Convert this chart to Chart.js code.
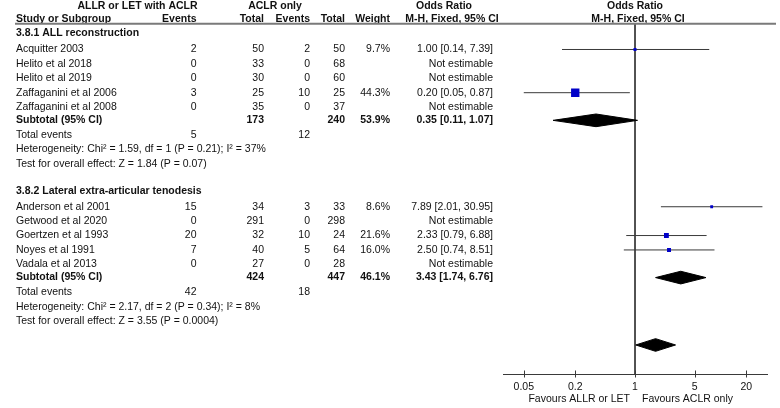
<!DOCTYPE html>
<html><head><meta charset="utf-8">
<script src="https://cdn.jsdelivr.net/npm/chart.js@4/dist/chart.umd.min.js"></script>
<style>html,body{margin:0;padding:0;background:#fff;}#c{display:block;}</style>
</head><body>
<canvas id="c" width="780" height="408"></canvas>
<script>
// ---------------- DATA ----------------
const groupNames = ["3.8.1 ALL reconstruction", "3.8.2 Lateral extra-articular tenodesis"];

const studies1 = ["Acquitter 2003", "Helito et al 2018", "Helito et al 2019", "Zaffaganini et al 2006", "Zaffaganini et al 2008"];
const eventsA1 = [2, 0, 0, 3, 0];
const totalA1  = [50, 33, 30, 25, 35];
const eventsB1 = [2, 0, 0, 10, 0];
const totalB1  = [50, 68, 60, 25, 37];
const weight1  = [9.7, null, null, 44.3, null];
const or1      = [1.00, null, null, 0.20, null];
const lo1      = [0.14, null, null, 0.05, null];
const hi1      = [7.39, null, null, 0.87, null];

const studies2 = ["Anderson et al 2001", "Getwood et al 2020", "Goertzen et al 1993", "Noyes et al 1991", "Vadala et al 2013"];
const eventsA2 = [15, 0, 20, 7, 0];
const totalA2  = [34, 291, 32, 40, 27];
const eventsB2 = [3, 0, 10, 5, 0];
const totalB2  = [33, 298, 24, 64, 28];
const weight2  = [8.6, null, 21.6, 16.0, null];
const or2      = [7.89, null, 2.33, 2.50, null];
const lo2      = [2.01, null, 0.79, 0.74, null];
const hi2      = [30.95, null, 6.88, 8.51, null];

const subTotalA  = [173, 424];
const subTotalB  = [240, 447];
const subWeight  = [53.9, 46.1];
const subOR      = [0.35, 3.43];
const subLo      = [0.11, 1.74];
const subHi      = [1.07, 6.76];
const totEventsA = [5, 42];
const totEventsB = [12, 18];
const heterogeneity = ["Heterogeneity: Chi\u00b2 = 1.59, df = 1 (P = 0.21); I\u00b2 = 37%",
                       "Heterogeneity: Chi\u00b2 = 2.17, df = 2 (P = 0.34); I\u00b2 = 8%"];
const effectTest = ["Test for overall effect: Z = 1.84 (P = 0.07)",
                    "Test for overall effect: Z = 3.55 (P = 0.0004)"];

const overallOR = 1.74, overallLo = 1.02, overallHi = 2.98;

const tickValues = [0.05, 0.2, 1, 5, 20];
const tickLabels = ["0.05", "0.2", "1", "5", "20"];
const axisMin = 1 / 35, axisMax = 35;
const favourLeft = "Favours ALLR or LET";
const favourRight = "Favours ACLR only";

// ---------------- LAYOUT (row slots) ----------------
const layout = {
  header1: -2.0, header2: -1.09, yTop: -0.7986, yBottom: 23.535,
  groups: [
    {head: -0.12, first: 1.0, sub: 5.92, te: 6.96, het: 7.95, test: 8.95},
    {head: 10.8, first: 11.92, sub: 16.84, te: 17.86, het: 18.86, test: 19.86}
  ],
  overall: 21.52
};
const diamondHalf = 0.44;
const groups = [
  {names: studies1, eA: eventsA1, tA: totalA1, eB: eventsB1, tB: totalB1, w: weight1, or: or1, lo: lo1, hi: hi1},
  {names: studies2, eA: eventsA2, tA: totalA2, eB: eventsB2, tB: totalB2, w: weight2, or: or2, lo: lo2, hi: hi2}
];

const LINE = '#3a3a3a';
const BLUE = '#0000c8';
const datasets = [];
// null line at OR = 1
datasets.push({type: 'line', data: [{x: 1, y: layout.yTop}, {x: 1, y: layout.yBottom}],
  borderColor: LINE, borderWidth: 1, pointRadius: 0, order: 5});

const squares = [];
const squareSides = [];
groups.forEach((g, gi) => {
  const L = layout.groups[gi];
  g.names.forEach((n, i) => {
    if (g.or[i] == null) return;
    const yy = L.first + i;
    datasets.push({type: 'line', data: [{x: g.lo[i], y: yy}, {x: g.hi[i], y: yy}],
      borderColor: LINE, borderWidth: 1, pointRadius: 0, order: 3});
    squares.push({x: g.or[i], y: yy});
    squareSides.push(1.5 + 0.155 * g.w[i]);
  });
  // subtotal diamond
  const ys = L.sub;
  datasets.push({type: 'line', fill: 'shape', backgroundColor: '#000', borderColor: '#000', borderWidth: 1,
    pointRadius: 0, tension: 0, order: 2,
    data: [{x: subLo[gi], y: ys}, {x: subOR[gi], y: ys - diamondHalf}, {x: subHi[gi], y: ys},
           {x: subOR[gi], y: ys + diamondHalf}, {x: subLo[gi], y: ys}]});
});
// overall diamond
datasets.push({type: 'line', fill: 'shape', backgroundColor: '#000', borderColor: '#000', borderWidth: 1,
  pointRadius: 0, tension: 0, order: 2,
  data: [{x: overallLo, y: layout.overall}, {x: overallOR, y: layout.overall - diamondHalf},
         {x: overallHi, y: layout.overall}, {x: overallOR, y: layout.overall + diamondHalf},
         {x: overallLo, y: layout.overall}]});
datasets.push({type: 'scatter', data: squares, pointStyle: 'rect', order: 0,
  pointRadius: squareSides.map(s => s / 1.4142), pointHoverRadius: squareSides.map(s => s / 1.4142),
  backgroundColor: BLUE, borderColor: BLUE, borderWidth: 0});

// ---------------- TEXT PLUGIN ----------------
const FONT = '"Liberation Sans", Arial, Helvetica, sans-serif';
const FS = 10.5;
const cols = {study: 16, eA: 196.5, tA: 264, eB: 310, tB: 345, w: 390, or: 493};
const textPlugin = {
  id: 'forestText',
  afterDraw(chart) {
    const ctx = chart.ctx;
    const ys = chart.scales.y, xs = chart.scales.x;
    const Y = v => ys.getPixelForValue(v);
    ctx.save();
    ctx.fillStyle = '#111';
    ctx.textBaseline = 'middle';
    const txt = (s, x, y, align, bold) => {
      ctx.font = (bold ? 'bold ' : '') + FS + 'px ' + FONT;
      ctx.textAlign = align;
      ctx.fillText(String(s), x, y);
    };
    // headers
    const h1 = Y(layout.header1), h2 = Y(layout.header2);
    txt('ALLR or LET with ACLR', 137.5, h1, 'center', true);
    txt('ACLR only', 275, h1, 'center', true);
    txt('Odds Ratio', 444, h1, 'center', true);
    txt('Odds Ratio', 635, h1, 'center', true);
    txt('Study or Subgroup', cols.study, h2, 'left', true);
    txt('Events', cols.eA, h2, 'right', true);
    txt('Total', cols.tA, h2, 'right', true);
    txt('Events', cols.eB, h2, 'right', true);
    txt('Total', cols.tB, h2, 'right', true);
    txt('Weight', cols.w, h2, 'right', true);
    txt('M-H, Fixed, 95% CI', 452, h2, 'center', true);
    txt('M-H, Fixed, 95% CI', 638, h2, 'center', true);
    // header rule
    ctx.strokeStyle = '#7a7a7a';
    ctx.lineWidth = 2;
    ctx.beginPath();
    ctx.moveTo(15, 23.7); ctx.lineTo(776, 23.7); ctx.stroke();

    groups.forEach((g, gi) => {
      const L = layout.groups[gi];
      txt(groupNames[gi], cols.study, Y(L.head), 'left', true);
      g.names.forEach((n, i) => {
        const y = Y(L.first + i);
        txt(n, cols.study, y, 'left');
        txt(g.eA[i], cols.eA, y, 'right');
        txt(g.tA[i], cols.tA, y, 'right');
        txt(g.eB[i], cols.eB, y, 'right');
        txt(g.tB[i], cols.tB, y, 'right');
        if (g.w[i] != null) txt(g.w[i].toFixed(1) + '%', cols.w, y, 'right');
        if (g.or[i] != null) {
          txt(g.or[i].toFixed(2) + ' [' + g.lo[i].toFixed(2) + ', ' + g.hi[i].toFixed(2) + ']', cols.or, y, 'right');
        } else {
          txt('Not estimable', cols.or, y, 'right');
        }
      });
      const ysb = Y(L.sub);
      txt('Subtotal (95% CI)', cols.study, ysb, 'left', true);
      txt(subTotalA[gi], cols.tA, ysb, 'right', true);
      txt(subTotalB[gi], cols.tB, ysb, 'right', true);
      txt(subWeight[gi].toFixed(1) + '%', cols.w, ysb, 'right', true);
      txt(subOR[gi].toFixed(2) + ' [' + subLo[gi].toFixed(2) + ', ' + subHi[gi].toFixed(2) + ']', cols.or, ysb, 'right', true);
      const yte = Y(L.te);
      txt('Total events', cols.study, yte, 'left');
      txt(totEventsA[gi], cols.eA, yte, 'right');
      txt(totEventsB[gi], cols.eB, yte, 'right');
      txt(heterogeneity[gi], cols.study, Y(L.het), 'left');
      txt(effectTest[gi], cols.study, Y(L.test), 'left');
    });

    // axis tick marks crossing the axis
    const axisY = chart.chartArea.bottom;
    ctx.strokeStyle = LINE;
    ctx.lineWidth = 1;
    tickValues.forEach(v => {
      const px = Math.round(xs.getPixelForValue(v)) + 0.5;
      ctx.beginPath(); ctx.moveTo(px, axisY - 3.5); ctx.lineTo(px, axisY + 3.5); ctx.stroke();
    });
    // favours labels
    const x1 = xs.getPixelForValue(1);
    txt(favourLeft, x1 - 5, 399, 'right');
    txt(favourRight, x1 + 7, 399, 'left');
    ctx.restore();
  }
};

Chart.defaults.font.family = FONT;
Chart.defaults.font.size = FS;
Chart.defaults.color = '#111';

new Chart(document.getElementById('c'), {
  type: 'scatter',
  data: {datasets},
  options: {
    responsive: false,
    animation: false,
    events: [],
    layout: {padding: {left: 503, right: 13, top: 23.6, bottom: 0}},
    plugins: {legend: {display: false}, tooltip: {enabled: false}},
    scales: {
      x: {
        type: 'logarithmic', min: axisMin, max: axisMax, position: 'bottom',
        afterBuildTicks: s => { s.ticks = tickValues.map(v => ({value: v})); },
        afterFit: s => { s.height = 34; },
        grid: {display: false, drawTicks: false},
        border: {display: true, color: LINE, width: 1},
        ticks: {autoSkip: false, maxRotation: 0, padding: 7, color: '#111',
                callback: v => { const i = tickValues.indexOf(v); return i >= 0 ? tickLabels[i] : ''; }}
      },
      y: {
        type: 'linear', display: false, reverse: true, min: layout.yTop, max: layout.yBottom
      }
    }
  },
  plugins: [textPlugin]
});
</script>
</body></html>
